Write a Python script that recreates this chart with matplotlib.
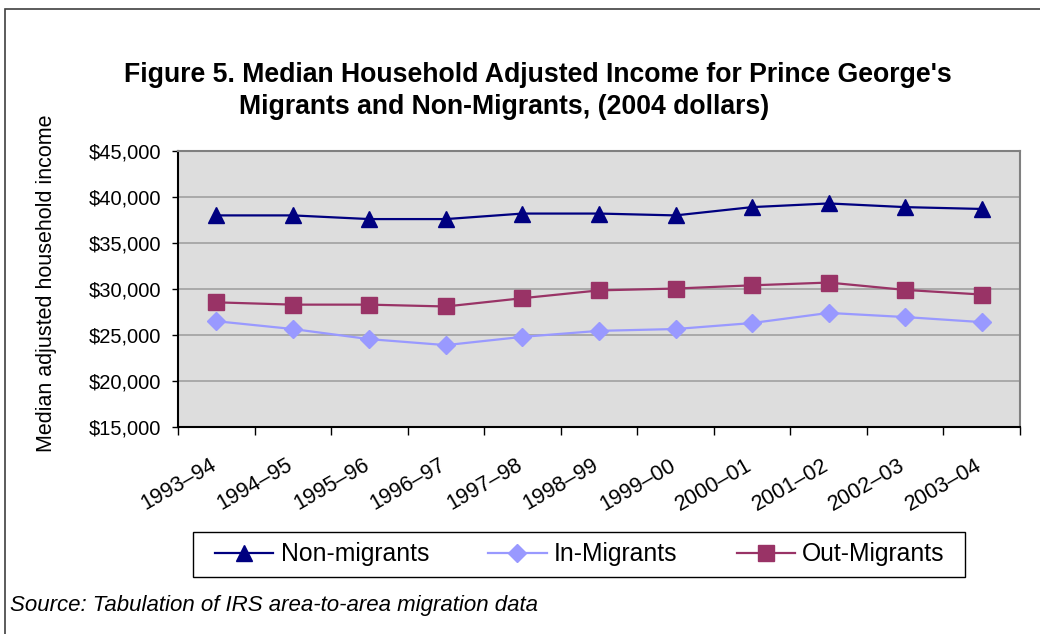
import numpy as np
import matplotlib
matplotlib.use('Agg')
import matplotlib.pyplot as plt
import matplotlib.transforms as mtransforms
from matplotlib.patches import Rectangle
from matplotlib.ticker import FuncFormatter, MultipleLocator

plt.rcParams['font.family'] = ['Liberation Sans', 'DejaVu Sans']

years = ['1993\u201394', '1994\u201395', '1995\u201396', '1996\u201397', '1997\u201398',
         '1998\u201399', '1999\u201300', '2000\u201301', '2001\u201302', '2002\u201303', '2003\u201304']
non_migrants = [38000, 38000, 37600, 37600, 38200, 38200, 38000, 38900, 39300, 38900, 38700]
in_migrants = [26500, 25650, 24550, 23900, 24800, 25450, 25650, 26300, 27400, 26950, 26400]
out_migrants = [28550, 28300, 28300, 28100, 29000, 29850, 30050, 30400, 30700, 29900, 29400]

fig = plt.figure(figsize=(10.4, 6.34), dpi=100)
W, H = 1040, 634

# outer border (runs off the right/bottom edges like the reference)
fig.patches.append(Rectangle((5 / W, -0.1), 1.1, 1 - 9 / H + 0.1, transform=fig.transFigure,
                             fill=False, edgecolor='#404040', linewidth=1.2))

ax = fig.add_axes([178 / W, 1 - 427 / H, (1020 - 178) / W, (427 - 151) / H])
ax.set_facecolor('#DDDDDD')

x = np.arange(len(years))
ax.plot(x, non_migrants, color='#000080', marker='^', markersize=12, linewidth=1.6, label='Non-migrants')
ax.plot(x, in_migrants, color='#9999FF', marker='D', markersize=9, linewidth=1.6, label='In-Migrants')
ax.plot(x, out_migrants, color='#993366', marker='s', markersize=11, linewidth=1.6, label='Out-Migrants')

ax.set_ylim(15000, 45000)
ax.set_xlim(-0.5, len(years) - 0.5)
ax.yaxis.set_major_locator(MultipleLocator(5000))
ax.yaxis.set_major_formatter(FuncFormatter(lambda v, p: '${:,.0f}'.format(v)))
ax.grid(axis='y', color='#A0A0A0', linewidth=1.2)
ax.set_axisbelow(True)

ax.set_xticks(x)
ax.set_xticklabels(years, rotation=30, ha='right', va='top', rotation_mode='anchor')
ax.set_xticks(np.arange(-0.5, len(years)), minor=True)
ax.tick_params(axis='x', which='major', length=0, pad=20, labelsize=15.5)
ax.tick_params(axis='x', which='minor', length=6, width=1, direction='out')
ax.tick_params(axis='y', length=4, width=1, direction='out', pad=8, labelsize=14.5)
shift = mtransforms.ScaledTranslation(-7 / 100, 0, fig.dpi_scale_trans)
for lbl in ax.get_xticklabels():
    lbl.set_transform(lbl.get_transform() + shift)

for side in ['left', 'bottom']:
    ax.spines[side].set_color('black')
    ax.spines[side].set_linewidth(1.5)
for side in ['right', 'top']:
    ax.spines[side].set_color('#808080')
    ax.spines[side].set_linewidth(1.5)

fig.text(47 / W, 1 - 283 / H, 'Median adjusted household income', rotation=90,
         ha='center', va='center', fontsize=15.5)

fig.text(538 / W, 1 - 75 / H, "Figure 5. Median Household Adjusted Income for Prince George's",
         ha='center', va='center', fontsize=19.2, fontweight='bold')
fig.text(504 / W, 1 - 107 / H, 'Migrants and Non-Migrants, (2004 dollars)',
         ha='center', va='center', fontsize=19.2, fontweight='bold')

# legend box drawn separately, entries centred inside it
fig.patches.append(Rectangle((193 / W, 1 - 577 / H), (965 - 193) / W, 45 / H, transform=fig.transFigure,
                             fill=False, edgecolor='black', linewidth=1.0))
leg = fig.legend(loc='center', bbox_to_anchor=(580 / W, 1 - 554.5 / H), ncol=3, fontsize=17.8,
                 frameon=False, handlelength=2.35, handletextpad=0.3, columnspacing=2.4)

fig.text(10 / W, 1 - 606 / H, 'Source: Tabulation of IRS area-to-area migration data',
         ha='left', va='center', fontsize=16, fontstyle='italic')

fig.savefig('out.png', dpi=100)
